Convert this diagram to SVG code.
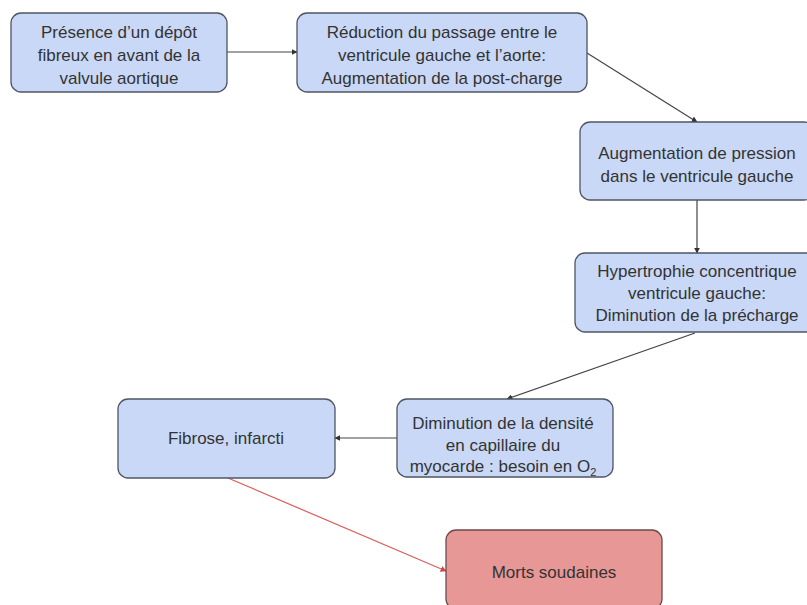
<svg xmlns="http://www.w3.org/2000/svg" width="807" height="605" viewBox="0 0 807 605">
<style>
.box{fill:#c9d8f6;stroke:#4f5563;stroke-width:1.3}
.red{fill:#e89797;stroke:#6b4a4a;stroke-width:1.3}
text{font-family:"Liberation Sans",Arial,sans-serif;font-size:17px;fill:#333;text-anchor:middle}
.c{fill:none;stroke:#444;stroke-width:1.2}
.cr{fill:none;stroke:#d85c5c;stroke-width:1.2}
</style>
<defs>
<marker id="ah" viewBox="0 0 10 10" refX="9" refY="5" markerWidth="6" markerHeight="6" markerUnits="userSpaceOnUse" orient="auto"><path d="M0,0 L10,5 L0,10 z" fill="#333"/></marker>
<marker id="ahr" viewBox="0 0 10 10" refX="9" refY="5" markerWidth="6" markerHeight="6" markerUnits="userSpaceOnUse" orient="auto"><path d="M0,0 L10,5 L0,10 z" fill="#c84a4a"/></marker>
</defs>
<rect width="807" height="605" fill="#fff"/>
<g id="connectors">
<line class="c" x1="227" y1="52" x2="297" y2="52" marker-end="url(#ah)"/>
<line class="c" x1="587" y1="53" x2="697" y2="122" marker-end="url(#ah)"/>
<line class="c" x1="697" y1="200" x2="697" y2="253" marker-end="url(#ah)"/>
<line class="c" x1="695" y1="333" x2="507" y2="399" marker-end="url(#ah)"/>
<line class="c" x1="397" y1="438" x2="335" y2="438" marker-end="url(#ah)"/>
<line class="cr" x1="228" y1="478" x2="446" y2="571" marker-end="url(#ahr)"/>
</g>
<g id="n1">
<rect class="box" x="11" y="13" width="216" height="79" rx="10"/>
<text x="119" y="38">Présence d’un dépôt</text>
<text x="119" y="61">fibreux en avant de la</text>
<text x="119" y="84">valvule aortique</text>
</g>
<g id="n2">
<rect class="box" x="297" y="13" width="290" height="79" rx="10"/>
<text x="442" y="38">Réduction du passage entre le</text>
<text x="442" y="61">ventricule gauche et l’aorte:</text>
<text x="442" y="84">Augmentation de la post-charge</text>
</g>
<g id="n3">
<rect class="box" x="580" y="122" width="234" height="78" rx="10"/>
<text x="697" y="159">Augmentation de pression</text>
<text x="697" y="182">dans le ventricule gauche</text>
</g>
<g id="n4">
<rect class="box" x="575" y="253" width="244" height="79" rx="10"/>
<text x="697" y="277">Hypertrophie concentrique</text>
<text x="697" y="299">ventricule gauche:</text>
<text x="697" y="321">Diminution de la précharge</text>
</g>
<g id="n5">
<rect class="box" x="397" y="399" width="216" height="78" rx="10"/>
<text x="503" y="429">Diminution de la densité</text>
<text x="503" y="451">en capillaire du</text>
<text x="503" y="472">myocarde : besoin en O<tspan font-size="11" dy="4">2</tspan></text>
</g>
<g id="n6">
<rect class="box" x="118" y="399" width="217" height="79" rx="10"/>
<text x="226" y="444">Fibrose, infarcti</text>
</g>
<g id="n7">
<rect class="red" x="446" y="530" width="216" height="79" rx="10"/>
<text x="554" y="578">Morts soudaines</text>
</g>
</svg>
